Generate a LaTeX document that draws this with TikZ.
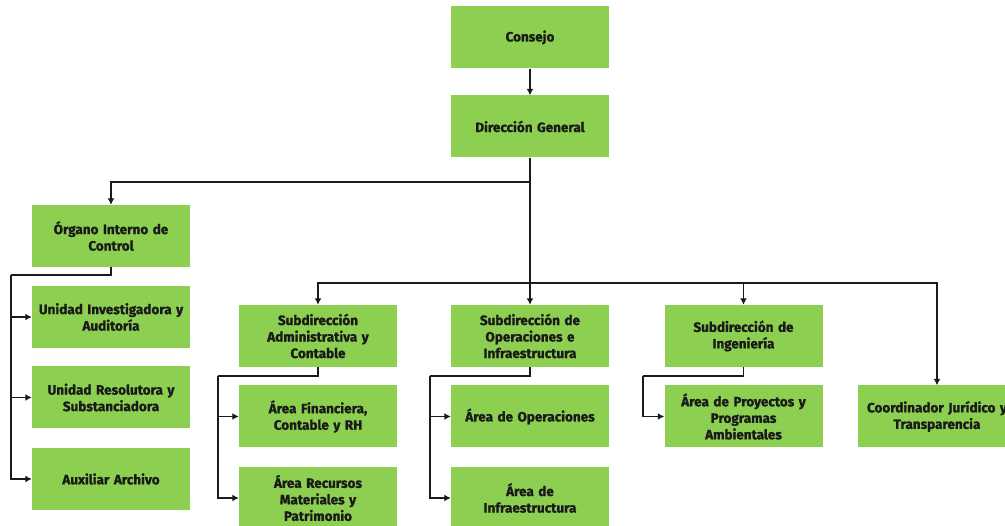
\documentclass[tikz,border=0pt]{standalone}
\usepackage{fontspec}
\setmainfont{Fira Sans}[WordSpace=0.7,BoldFeatures={FakeBold=1.2}]
\usetikzlibrary{arrows.meta}
\definecolor{boxgreen}{HTML}{8DCF50}
\definecolor{inkc}{HTML}{1A1A1A}
\begin{document}
\begin{tikzpicture}[x=1pt,y=-1pt,
  orgbox/.style={fill=boxgreen,draw=none,minimum width=158pt,minimum height=62pt,
    text width=158pt,align=center,inner sep=0pt,text=inkc,
    font=\fontsize{13.5}{16.5}\selectfont\bfseries},
  conn/.style={line width=1.8pt,draw=inkc,line join=miter},
  arr/.style={conn,-{Latex[length=6.5pt,width=7pt]}}]
\useasboundingbox[fill=white] (0,0) rectangle (1005,526);
% nodes
\node[orgbox] (consejo) at (530,37.5) {Consejo};
\node[orgbox] (dg) at (530,126.5) {Dirección General};
\node[orgbox] (oic) at (111,236) {Órgano Interno de\\Control};
\node[orgbox] (uia) at (111,317) {Unidad Investigadora y\\Auditoría};
\node[orgbox] (urs) at (111,397.5) {Unidad Resolutora y\\Substanciadora};
\node[orgbox] (aux) at (111,479) {Auxiliar Archivo};
\node[orgbox] (sac) at (318,336) {Subdirección\\Administrativa y\\Contable};
\node[orgbox] (sop) at (530,336) {Subdirección de\\Operaciones e\\Infraestructura};
\node[orgbox] (sing) at (743.5,336) {Subdirección de\\Ingeniería};
\node[orgbox] (afc) at (318,416.5) {Área Financiera,\\Contable y RH};
\node[orgbox] (aop) at (530,416.5) {Área de Operaciones};
\node[orgbox] (apy) at (743.5,416.5) {Área de Proyectos y\\Programas\\Ambientales};
\node[orgbox] (cjt) at (937,416.5) {Coordinador Jurídico y\\Transparencia};
\node[orgbox] (arm) at (318,498) {Área Recursos\\Materiales y\\Patrimonio};
\node[orgbox] (ainf) at (530,498) {Área de\\Infraestructura};
% coordinates
\coordinate (h1) at (530,182);
\coordinate (bus) at (530,283);
\coordinate (oL) at (11,275);
\coordinate (sL) at (218,376);
\coordinate (pL) at (430,376);
\coordinate (iL) at (643,376);
% connectors
\draw[arr] (consejo.south) -- (dg.north);
\draw[arr] (dg.south) -- (h1) -| (oic.north);
\draw[arr] (dg.south) -- (sop.north);
\draw[arr] (bus) -| (sac.north);
\draw[arr] (bus) -| (sing.north);
\draw[arr] (bus) -| (cjt.north);
\draw[conn] (oic.south) |- (oL);
\draw[arr] (oL) |- (uia.west);
\draw[arr] (oL) |- (urs.west);
\draw[arr] (oL) |- (aux.west);
\draw[conn] (sac.south) |- (sL);
\draw[arr] (sL) |- (afc.west);
\draw[arr] (sL) |- (arm.west);
\draw[conn] (sop.south) |- (pL);
\draw[arr] (pL) |- (aop.west);
\draw[arr] (pL) |- (ainf.west);
\draw[conn] (sing.south) |- (iL);
\draw[arr] (iL) |- (apy.west);
\end{tikzpicture}
\end{document}
